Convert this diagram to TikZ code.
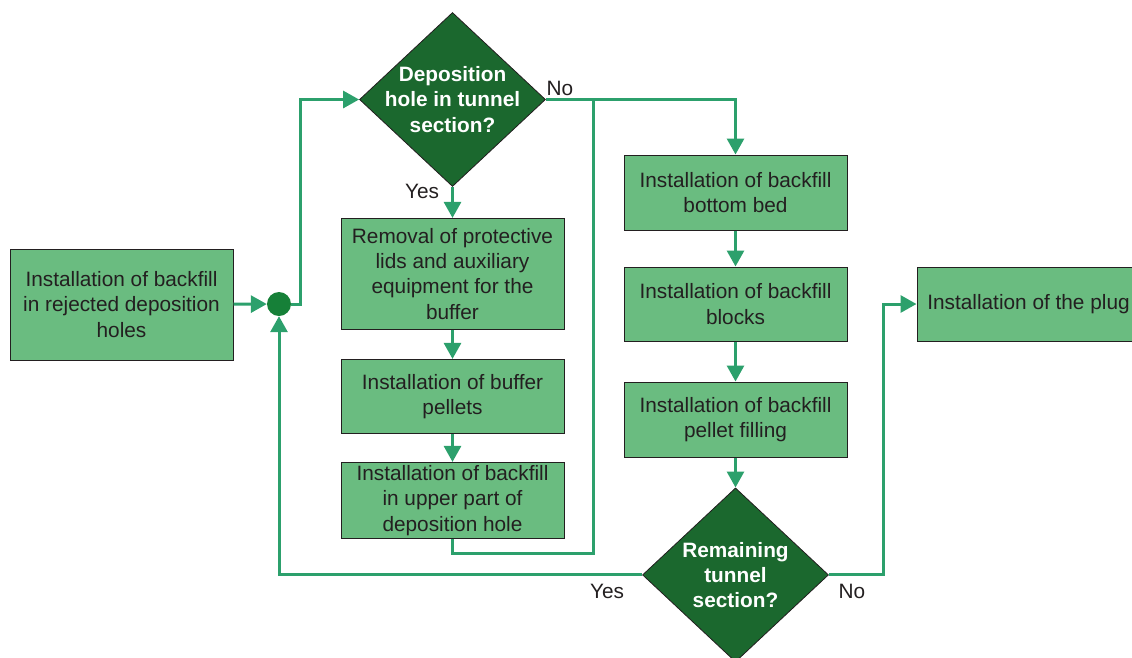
\documentclass[tikz,border=0pt]{standalone}
\usepackage{fontspec}
\setmainfont{Liberation Sans}
\usepackage{tikz}
\usetikzlibrary{positioning}
\usetikzlibrary{shapes.geometric}
\usetikzlibrary{arrows.meta}

\definecolor{boxgreen}{RGB}{106,188,128}
\definecolor{decgreen}{RGB}{27,104,46}
\definecolor{linegreen}{RGB}{44,160,108}
\definecolor{dotgreen}{RGB}{22,128,56}
\definecolor{txtgray}{RGB}{35,31,32}

\tikzset{
  proc/.style={draw=txtgray, line width=1pt, fill=boxgreen, text=txtgray, minimum width=223pt, inner sep=0pt, align=center, font=\fontsize{20.8}{25.3}\selectfont},
  dec/.style={diamond, draw=txtgray, line width=0.8pt, fill=decgreen, text=white, inner xsep=-30pt, inner ysep=-20pt, minimum width=186pt, minimum height=174pt, align=center, font=\fontsize{20.8}{25.3}\selectfont\bfseries},
  junc/.style={circle, fill=dotgreen, minimum size=24pt, inner sep=0pt},
  conn/.style={draw=linegreen, line width=3pt},
  flow/.style={conn, -{Triangle[length=16pt,width=17pt]}},
  lbl/.style={text=txtgray, inner sep=0pt, font=\fontsize{20.8}{25.3}\selectfont},
}

\begin{document}
\begin{tikzpicture}[x=1pt, y=-1pt]
\useasboundingbox (0,0) rectangle (1132,657);
\node[proc, minimum height=111pt] (b0) at (121.5,304.5) {Installation of backfill\\in rejected deposition\\holes};
\node[junc] (j) at (279,304) {};
\node[dec] (d1) at (452.5,99.5) {Deposition\\hole in tunnel\\section?};
\node[proc, minimum height=111pt, below=31pt of d1] (b1) {Removal of protective\\lids and auxiliary\\equipment for the\\buffer};
\node[proc, minimum height=74pt, below=29pt of b1] (b2) {Installation of buffer\\pellets};
\node[proc, minimum height=76pt, below=28pt of b2] (b3) {Installation of backfill\\in upper part of\\deposition hole};
\node[proc, minimum height=75pt] (b4) at (735.5,192.5) {Installation of backfill\\bottom bed};
\node[proc, minimum height=74pt, below=36pt of b4] (b5) {Installation of backfill\\blocks};
\node[proc, minimum height=75pt, below=40pt of b5] (b6) {Installation of backfill\\pellet filling};
\node[dec, below=30pt of b6] (d2) {Remaining\\tunnel\\section?};
\node[proc, minimum height=74pt] (b7) at (1028.5,304) {Installation of the plug};
\node[lbl] (no1) at (560,88) {No};
\node[lbl] (yes1) at (422,191) {Yes};
\node[lbl] (yes2) at (607,591) {Yes};
\node[lbl] (no2) at (852,591) {No};
\draw[flow] (b0) -- (j);
\draw[flow] (j.east) -- ++(9,0) |- (d1.west);
\draw[flow] (d1) -- (b1);
\draw[flow] (b1) -- (b2);
\draw[flow] (b2) -- (b3);
\draw[flow] (d1.east) -| (b4);
\draw[conn] (b3.south) -- ++(0,15) -| ([xshift=48pt]d1.east);
\draw[flow] (b4) -- (b5);
\draw[flow] (b5) -- (b6);
\draw[flow] (b6) -- (d2);
\draw[flow] (d2.west) -| (j);
\draw[flow] (d2.east) -- ++(55,0) |- (b7);
\end{tikzpicture}
\end{document}
